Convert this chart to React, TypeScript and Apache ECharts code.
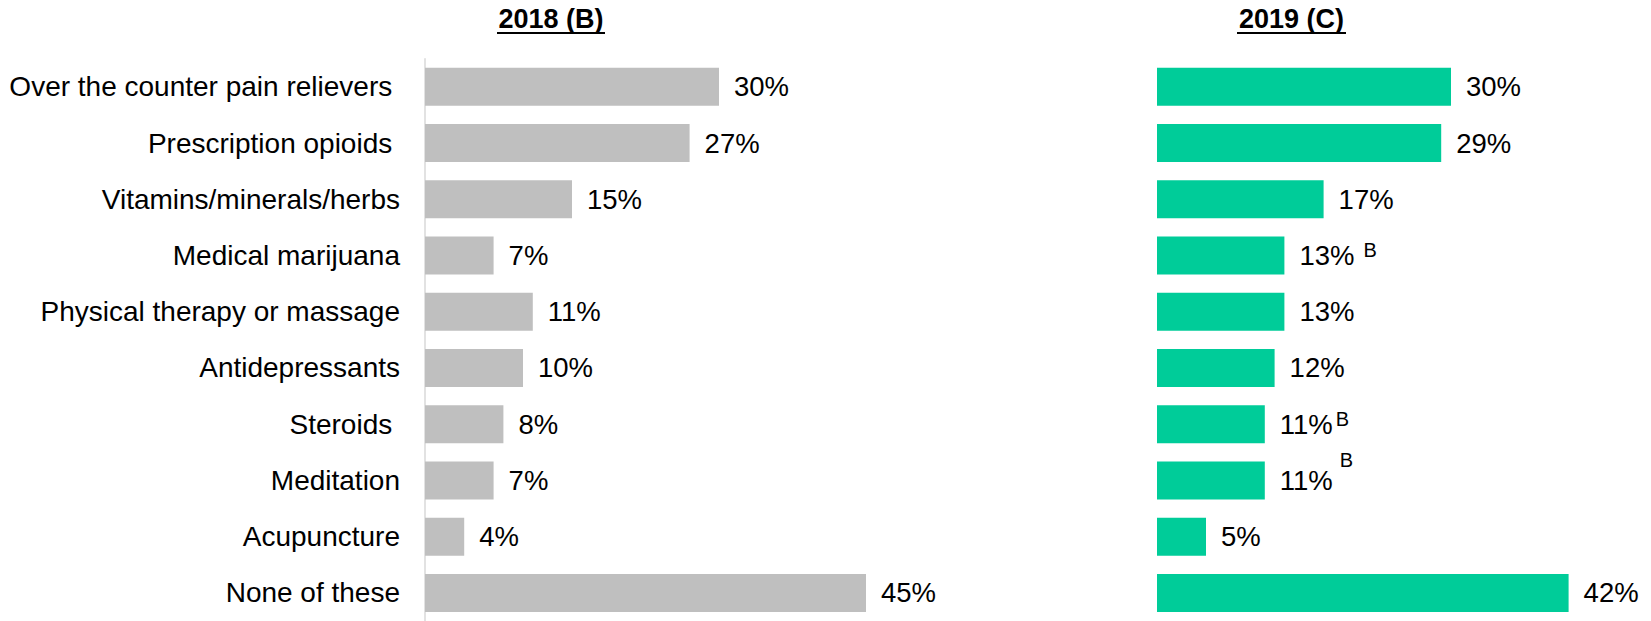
import React, { useEffect, useRef } from "react";
import * as echarts from "echarts";

const categories = [
  "Over the counter pain relievers ",
  "Prescription opioids ",
  "Vitamins/minerals/herbs",
  "Medical marijuana",
  "Physical therapy or massage",
  "Antidepressants",
  "Steroids ",
  "Meditation",
  "Acupuncture",
  "None of these",
];
const values2018 = [30, 27, 15, 7, 11, 10, 8, 7, 4, 45];
const values2019 = [30, 29, 17, 13, 13, 12, 11, 11, 5, 42];
const sigMarks2019 = ["", "", "", "B", "", "", "B", "B", "", ""];
const titles = ["2018 (B)", "2019 (C)"];

// label offsets for significance marks (style)
const sigOffsets: Record<number, [number, number]> = {
  3: [79, -5.5],
  6: [71, -5.5],
  7: [75, -20.5],
};

const FONT = "Liberation Sans, Arial, sans-serif";

export default function App() {
  const ref = useRef<HTMLDivElement>(null);
  useEffect(() => {
    document.body.style.margin = "0";
    const chart = echarts.init(ref.current!, undefined, { renderer: "svg" });
    const gridTop = 58.67;
    const gridH = 566.67;
    const valueLabel = {
      show: true,
      position: "right",
      distance: 15,
      fontSize: 27.5,
      color: "#000",
      fontFamily: FONT,
      formatter: (p: any) => `${p.value}%`,
    };
    const option: any = {
      animation: false,
      textStyle: { fontFamily: FONT },
      grid: [
        { left: 425, top: gridTop, width: 490, height: gridH },
        { left: 1157, top: gridTop, width: 490, height: gridH },
      ],
      xAxis: [
        { gridIndex: 0, type: "value", min: 0, max: 50, show: false },
        { gridIndex: 1, type: "value", min: 0, max: 50, show: false },
      ],
      yAxis: [
        {
          gridIndex: 0,
          type: "category",
          inverse: true,
          data: categories,
          axisLine: { show: true, lineStyle: { color: "#d9d9d9", width: 1.5 } },
          axisTick: { show: false },
          splitLine: { show: false },
          axisLabel: { fontSize: 28, color: "#000", margin: 25, fontFamily: FONT },
        },
        {
          gridIndex: 1,
          type: "category",
          inverse: true,
          data: categories,
          axisLine: { show: false },
          axisTick: { show: false },
          splitLine: { show: false },
          axisLabel: { show: false },
        },
      ],
      series: [
        {
          type: "bar",
          xAxisIndex: 0,
          yAxisIndex: 0,
          data: values2018,
          barWidth: 38,
          itemStyle: { color: "#bfbfbf" },
          label: valueLabel,
        },
        {
          type: "bar",
          xAxisIndex: 1,
          yAxisIndex: 1,
          data: values2019,
          barWidth: 38,
          itemStyle: { color: "#00cc99" },
          label: valueLabel,
        },
        {
          type: "bar",
          xAxisIndex: 1,
          yAxisIndex: 1,
          barGap: "-100%",
          barWidth: 38,
          silent: true,
          itemStyle: { color: "rgba(0,0,0,0)" },
          data: values2019.map((v, i) => ({
            value: v,
            label: {
              show: sigMarks2019[i] !== "",
              offset: sigOffsets[i] || [0, 0],
            },
          })),
          label: {
            show: true,
            position: "right",
            distance: 0,
            fontSize: 20,
            color: "#000",
            fontFamily: FONT,
            formatter: (p: any) => sigMarks2019[p.dataIndex],
          },
        },
      ],
      graphic: [
        {
          type: "text",
          x: 551,
          y: 19,
          style: {
            text: titles[0],
            font: `bold 27px ${FONT}`,
            fill: "#000",
            align: "center",
            verticalAlign: "middle",
          },
        },
        {
          type: "line",
          shape: { x1: 497, y1: 33, x2: 605, y2: 33 },
          style: { stroke: "#000", lineWidth: 2 },
        },
        {
          type: "text",
          x: 1291.5,
          y: 19,
          style: {
            text: titles[1],
            font: `bold 27px ${FONT}`,
            fill: "#000",
            align: "center",
            verticalAlign: "middle",
          },
        },
        {
          type: "line",
          shape: { x1: 1237, y1: 33, x2: 1346, y2: 33 },
          style: { stroke: "#000", lineWidth: 2 },
        },
      ],
    };
    chart.setOption(option);
    return () => chart.dispose();
  }, []);
  return <div ref={ref} style={{ width: 1651, height: 621 }} />;
}
